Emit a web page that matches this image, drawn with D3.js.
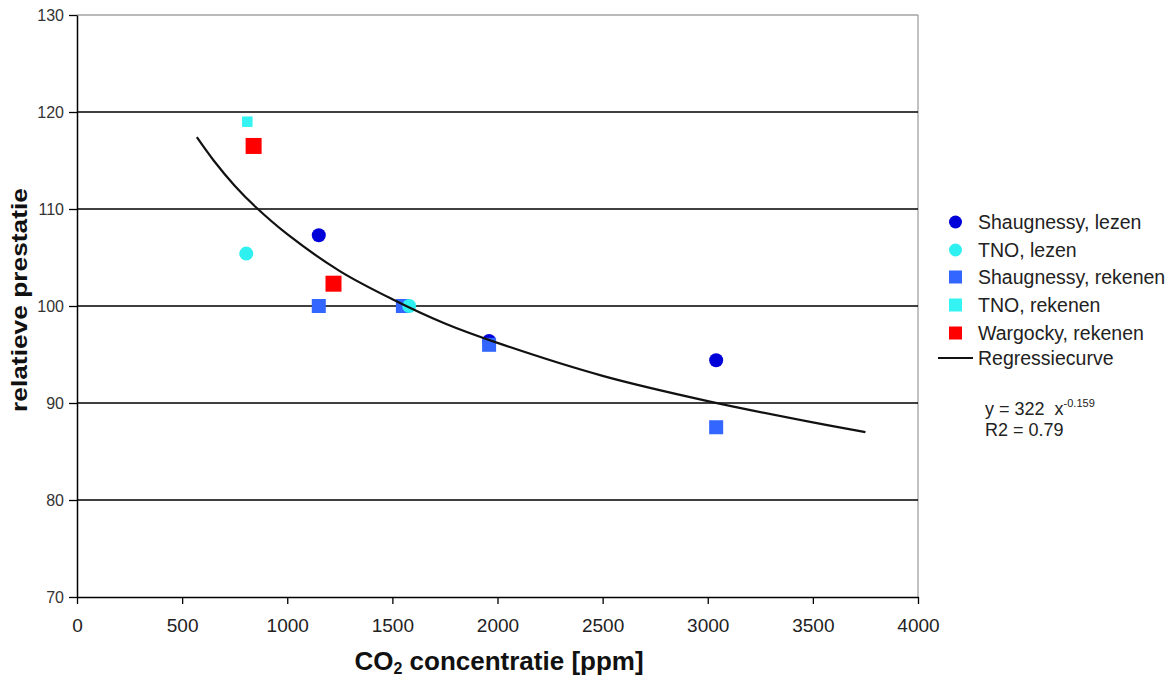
<!DOCTYPE html>
<html><head><meta charset="utf-8">
<script src="https://cdn.jsdelivr.net/npm/d3@7"></script>
<style>body{margin:0;background:#fff}svg{display:block}text{font-family:"Liberation Sans",Arial,sans-serif}</style>
</head><body><svg id="c" width="1174" height="680"></svg>
<script>
// Data
const xTicks = [0, 500, 1000, 1500, 2000, 2500, 3000, 3500, 4000];
const yTicks = [70, 80, 90, 100, 110, 120, 130];
const shaugLezenX = [1150, 1550, 1960, 3040];
const shaugLezenY = [107.3, 100, 96.4, 94.4];
const tnoLezenX = [805, 1580];
const tnoLezenY = [105.4, 100];
const shaugRekenenX = [1150, 1550, 1960, 3040];
const shaugRekenenY = [100, 100, 96, 87.5];
const tnoRekenenX = [810];
const tnoRekenenY = [119];
const wargockyX = [840, 1220];
const wargockyY = [116.5, 102.3];
const curveX = [570, 650, 750, 850, 1000, 1250, 1500, 1750, 2000, 2500, 3000, 3500, 3750];
const curveY = [117.4, 115.0, 112.4, 110.2, 107.4, 103.6, 100.7, 98.2, 96.2, 92.8, 90.2, 88.0, 87.0];
const legendLabels = ["Shaugnessy, lezen", "TNO, lezen", "Shaugnessy, rekenen", "TNO, rekenen", "Wargocky, rekenen", "Regressiecurve"];

const svg = d3.select("#c");
const L = 77, R = 918, T = 15, B = 597;
const x = d3.scaleLinear().domain([0, 4000]).range([L, R]);
const y = d3.scaleLinear().domain([70, 130]).range([B, T]);

// plot border top/right
svg.append("line").attr("x1", L).attr("x2", R).attr("y1", T).attr("y2", T).attr("stroke", "#777").attr("stroke-width", 1.2);
svg.append("line").attr("x1", R).attr("x2", R).attr("y1", T).attr("y2", B).attr("stroke", "#999").attr("stroke-width", 1.2);

// gridlines
svg.append("g").selectAll("line").data(yTicks.filter(d => d > 70 && d < 130)).join("line")
  .attr("x1", L).attr("x2", R).attr("y1", d => y(d)).attr("y2", d => y(d))
  .attr("stroke", "#000").attr("stroke-width", 1.4);

// axes
const gx = svg.append("g").attr("transform", `translate(0,${B})`)
  .call(d3.axisBottom(x).tickValues(xTicks).tickFormat(d3.format("d")).tickSize(7).tickSizeOuter(0).tickPadding(15));
gx.select(".domain").attr("stroke", "#000").attr("stroke-width", 1.5);
gx.selectAll(".tick line").attr("stroke", "#000").attr("stroke-width", 1.3);
gx.selectAll("text").attr("font-size", 19).attr("fill", "#222").style("font-family", "Liberation Sans, Arial, sans-serif");

const gy = svg.append("g").attr("transform", `translate(${L},0)`)
  .call(d3.axisLeft(y).tickValues(yTicks).tickFormat(d3.format("d")).tickSize(8).tickSizeOuter(0).tickPadding(5));
gy.select(".domain").attr("stroke", "#000").attr("stroke-width", 1.5);
gy.selectAll(".tick line").attr("stroke", "#000").attr("stroke-width", 1.3);
gy.selectAll("text").attr("font-size", 16).attr("fill", "#333").style("font-family", "Liberation Sans, Arial, sans-serif");

// axis titles
const xt = svg.append("text").attr("x", 499).attr("y", 670).attr("text-anchor", "middle")
  .attr("font-size", 26).attr("font-weight", "bold").attr("fill", "#111");
xt.append("tspan").text("CO");
xt.append("tspan").attr("font-size", 16).attr("dy", 4).text("2");
xt.append("tspan").attr("dy", -4).text(" concentratie [ppm]");

svg.append("text").attr("transform", "translate(27,300) rotate(-90)").attr("text-anchor", "middle")
  .attr("font-size", 22).attr("font-weight", "bold").attr("fill", "#111")
  .attr("textLength", 224).attr("lengthAdjust", "spacingAndGlyphs").text("relatieve prestatie");

// marks
const pts = (xs, ys) => xs.map((v, i) => [v, ys[i]]);
const plot = svg.append("g");
function circles(data, color, r) {
  plot.append("g").selectAll("circle").data(data).join("circle")
    .attr("cx", d => x(d[0])).attr("cy", d => y(d[1])).attr("r", r).attr("fill", color);
}
function squares(data, color, s) {
  plot.append("g").selectAll("rect").data(data).join("rect")
    .attr("x", d => x(d[0]) - s / 2).attr("y", d => y(d[1]) - s / 2).attr("width", s).attr("height", s).attr("fill", color);
}
circles(pts(shaugLezenX, shaugLezenY), "#0000d8", 7);
squares(pts(shaugRekenenX, shaugRekenenY), "#3366ff", 14);
circles(pts(tnoLezenX, tnoLezenY), "#2ef0f0", 7);
squares(pts(tnoRekenenX, tnoRekenenY), "#33f3f3", 10.5);
squares(pts(wargockyX, wargockyY), "#ff0000", 16);

// regression curve
const line = d3.line().x(d => x(d[0])).y(d => y(d[1])).curve(d3.curveCatmullRom);
svg.append("path").datum(pts(curveX, curveY)).attr("d", line)
  .attr("fill", "none").attr("stroke", "#111").attr("stroke-width", 2.2);

// legend
const lg = svg.append("g");
const rowY = [222, 250, 277, 305, 333, 358];
const mx = 955.5;
lg.append("circle").attr("cx", mx).attr("cy", rowY[0]).attr("r", 6.5).attr("fill", "#0000d8");
lg.append("circle").attr("cx", mx).attr("cy", rowY[1]).attr("r", 6.5).attr("fill", "#2ef0f0");
lg.append("rect").attr("x", mx - 6.5).attr("y", rowY[2] - 6.5).attr("width", 13).attr("height", 13).attr("fill", "#3366ff");
lg.append("rect").attr("x", mx - 6.5).attr("y", rowY[3] - 6.5).attr("width", 13).attr("height", 13).attr("fill", "#33f3f3");
lg.append("rect").attr("x", mx - 6.5).attr("y", rowY[4] - 6.5).attr("width", 13).attr("height", 13).attr("fill", "#ff0000");
lg.append("line").attr("x1", 938).attr("x2", 973).attr("y1", rowY[5]).attr("y2", rowY[5]).attr("stroke", "#111").attr("stroke-width", 1.8);
lg.selectAll("text.lab").data(legendLabels).join("text").attr("class", "lab")
  .attr("x", 978).attr("y", (d, i) => rowY[i]).attr("dy", "0.35em")
  .attr("font-size", 19.5).attr("fill", "#222").text(d => d);

const eq = svg.append("text").attr("x", 985).attr("y", 415).attr("font-size", 18).attr("fill", "#222");
eq.append("tspan").text("y = 322\u00a0\u00a0x");
eq.append("tspan").attr("font-size", 11).attr("dy", -8).text("-0.159");
svg.append("text").attr("x", 985).attr("y", 436).attr("font-size", 18).attr("fill", "#222").text("R2 = 0.79");
</script></body></html>
